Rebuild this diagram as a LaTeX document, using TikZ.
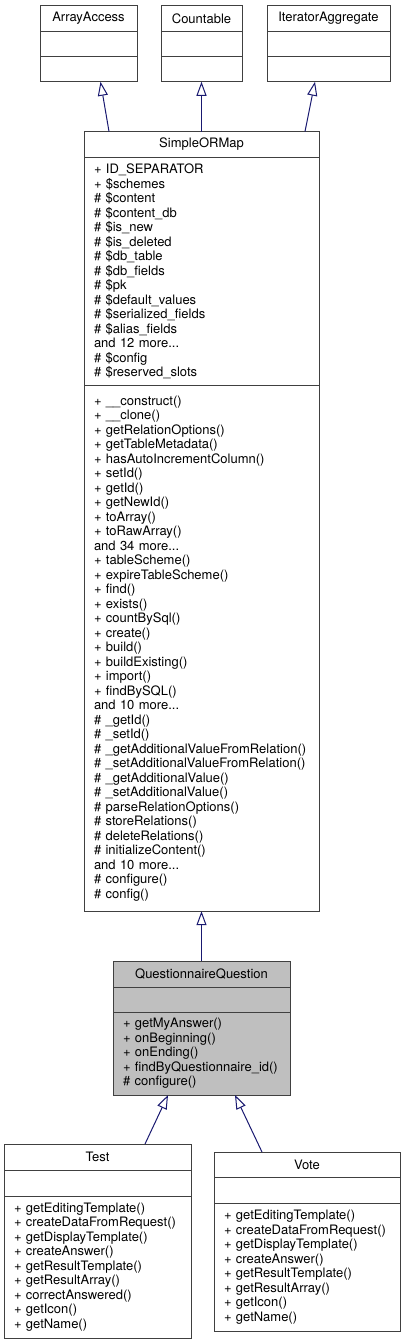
\documentclass[tikz,border=0pt]{standalone}
\usepackage{fontspec}
\setmainfont{TeX Gyre Heros}
\usepackage{tikz}
\usetikzlibrary{positioning, arrows.meta}
\definecolor{edgeblue}{HTML}{191970}
\definecolor{boxline}{HTML}{404040}
\definecolor{boxgray}{HTML}{BFBFBF}
\tikzset{
classpart/.style={draw=boxline, line width=1pt, fill=white, inner xsep=10pt, inner ysep=2pt, outer sep=0pt}, % one compartment of a class box
classname/.style={classpart, align=center, font=\fontsize{13}{14.5}\selectfont}, % top compartment with the class name
members/.style={classpart, align=left, font=\fontsize{13}{14.5}\selectfont}, % attributes or operations
inherits/.style={draw=edgeblue, line width=1pt, -{Triangle[open, length=14pt, width=10pt]}}, % open triangle points at the base class
}
\begin{document}
\begin{tikzpicture}[x=1pt, y=-1pt]
                \useasboundingbox (0,0) rectangle (405,1344);

                % interfaces
                \node[classname, text width=77pt, minimum height=25.5pt] (aa_head) at (88.5,18.5) {ArrayAccess};
                \node[members, text width=77pt, minimum height=25.5pt, below=0pt of aa_head] (aa_attr) {};
                \node[members, text width=77pt, minimum height=25pt, below=0pt of aa_attr] (aa_ops) {};

                \node[classname, text width=61pt, minimum height=25.5pt] (ct_head) at (201.5,18.5) {Countable};
                \node[members, text width=61pt, minimum height=25.5pt, below=0pt of ct_head] (ct_attr) {};
                \node[members, text width=61pt, minimum height=25pt, below=0pt of ct_attr] (ct_ops) {};

                \node[classname, text width=103pt, minimum height=25.5pt] (ia_head) at (328.5,18.5) {IteratorAggregate};
                \node[members, text width=103pt, minimum height=25.5pt, below=0pt of ia_head] (ia_attr) {};
                \node[members, text width=103pt, minimum height=25pt, below=0pt of ia_attr] (ia_ops) {};

                % base class
                \node[classname, text width=215pt, minimum height=26pt] (sorm_head) at (201.5,144.5) {SimpleORMap};
                \node[members, text width=215pt, minimum height=228.4pt, below=0pt of sorm_head] (sorm_attr) {%
                    + ID\_SEPARATOR\\
                    + \$schemes\\
                    \# \$content\\
                    \# \$content\_db\\
                    \# \$is\_new\\
                    \# \$is\_deleted\\
                    \# \$db\_table\\
                    \# \$db\_fields\\
                    \# \$pk\\
                    \# \$default\_values\\
                    \# \$serialized\_fields\\
                    \# \$alias\_fields\\
                    and 12 more...\\
                    \# \$config\\
                    \# \$reserved\_slots};
                \node[members, text width=215pt, minimum height=525.3pt, below=0pt of sorm_attr] (sorm_ops) {%
                    + \_\_construct()\\
                    + \_\_clone()\\
                    + getRelationOptions()\\
                    + getTableMetadata()\\
                    + hasAutoIncrementColumn()\\
                    + setId()\\
                    + getId()\\
                    + getNewId()\\
                    + toArray()\\
                    + toRawArray()\\
                    and 34 more...\\
                    + tableScheme()\\
                    + expireTableScheme()\\
                    + find()\\
                    + exists()\\
                    + countBySql()\\
                    + create()\\
                    + build()\\
                    + buildExisting()\\
                    + import()\\
                    + findBySQL()\\
                    and 10 more...\\
                    \# \_getId()\\
                    \# \_setId()\\
                    \# \_getAdditionalValueFromRelation()\\
                    \# \_setAdditionalValueFromRelation()\\
                    \# \_getAdditionalValue()\\
                    \# \_setAdditionalValue()\\
                    \# parseRelationOptions()\\
                    \# storeRelations()\\
                    \# deleteRelations()\\
                    \# initializeContent()\\
                    and 10 more...\\
                    \# configure()\\
                    \# config()};

                % the class of this page
                \node[classname, fill=boxgray, text width=157pt, minimum height=26pt] (qq_head) at (201.5,974) {QuestionnaireQuestion};
                \node[members, fill=boxgray, text width=157pt, minimum height=25pt, below=0pt of qq_head] (qq_attr) {};
                \node[members, fill=boxgray, text width=157pt, minimum height=83pt, below=0pt of qq_attr] (qq_ops) {%
                    + getMyAnswer()\\
                    + onBeginning()\\
                    + onEnding()\\
                    + findByQuestionnaire\_id()\\
                    \# configure()};

                % derived classes
                \node[classname, text width=167pt, minimum height=26pt] (test_head) at (97.5,1157) {Test};
                \node[members, text width=167pt, minimum height=26pt, below=0pt of test_head] (test_attr) {};
                \node[members, text width=167pt, minimum height=142pt, below=0pt of test_attr] (test_ops) {%
                    + getEditingTemplate()\\
                    + createDataFromRequest()\\
                    + getDisplayTemplate()\\
                    + createAnswer()\\
                    + getResultTemplate()\\
                    + getResultArray()\\
                    + correctAnswered()\\
                    + getIcon()\\
                    + getName()};

                \node[classname, text width=166pt, minimum height=25pt] (vote_head) at (307,1164.5) {Vote};
                \node[members, text width=166pt, minimum height=26pt, below=0pt of vote_head] (vote_attr) {};
                \node[members, text width=166pt, minimum height=128pt, below=0pt of vote_attr] (vote_ops) {%
                    + getEditingTemplate()\\
                    + createDataFromRequest()\\
                    + getDisplayTemplate()\\
                    + createAnswer()\\
                    + getResultTemplate()\\
                    + getResultArray()\\
                    + getIcon()\\
                    + getName()};

                \draw[inherits] ([xshift=-92.5pt]sorm_head.north) -- ([xshift=12pt]aa_ops.south);
                \draw[inherits] (sorm_head) -- (ct_ops);
                \draw[inherits] ([xshift=103.5pt]sorm_head.north) -- ([xshift=-13.5pt]ia_ops.south);
                \draw[inherits] (qq_head) -- (sorm_ops);
                \draw[inherits] ([xshift=47.5pt]test_head.north) -- ([xshift=-33.5pt]qq_ops.south);
                \draw[inherits] ([xshift=-45pt]vote_head.north) -- ([xshift=33.5pt]qq_ops.south);
\end{tikzpicture}
\end{document}
